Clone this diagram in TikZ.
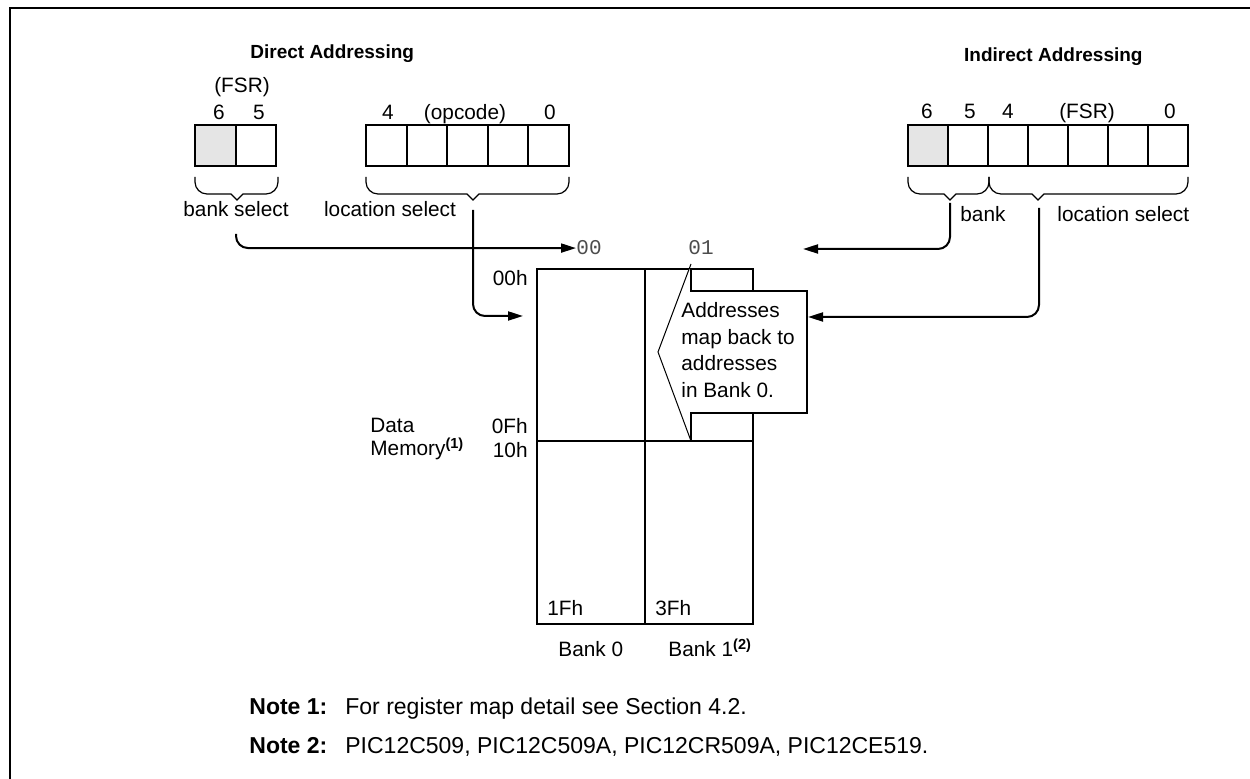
\documentclass[tikz,border=0pt]{standalone}
\usepackage{fontspec}
\setmainfont{Liberation Sans}
\setmonofont{Liberation Mono}
\usetikzlibrary{arrows.meta}
\usetikzlibrary{calc}

\definecolor{bankgray}{gray}{0.9}

\begin{document}
\begin{tikzpicture}[x=0.5pt, y=-0.5pt, >={Triangle[length=7.5pt,width=4.5pt]},
  lbl/.style={inner sep=0pt, font=\fontsize{10.4}{12.5}\selectfont},
  ttl/.style={inner sep=0pt, font=\fontsize{9.5}{11.5}\selectfont\bfseries},
  note/.style={inner sep=0pt, font=\fontsize{11.5}{14}\selectfont},
  adr/.style={inner sep=0pt, font=\fontsize{10.5}{12}\selectfont\ttfamily, text=black!70},
  cell/.style={draw, line width=1pt, minimum width=20.3pt, minimum height=20.5pt, inner sep=0pt},
  bankcol/.style={draw, line width=1pt, minimum width=54pt, minimum height=177.5pt, inner sep=0pt},
  wire/.style={line width=1pt, rounded corners=6pt},
  brace/.style={line width=0.6pt},
  pointer/.style={line width=0.5pt}]
\useasboundingbox (0,0) rectangle (1250,779);
\draw[line width=1pt] (10,779) -- (10,8) -- (1250,8);

\node[ttl, anchor=base west] (dtitle) at (250,59) {Direct Addressing};
\node[ttl, anchor=base east] (ititle) at (1143,62) {Indirect Addressing};

\node[cell, fill=bankgray] (fsr6) at (215.5,145.5) {};
\node[cell] (fsr5) at (256.1,145.5) {};
\foreach \i in {0,...,4}
  \node[cell] (opc\i) at (386.3+\i*40.6,145.5) {};
\node[lbl, anchor=base] (fsrname) at (242,93) {(FSR)};
\node[lbl, anchor=base] (fsrbit6) at (219,120) {6};
\node[lbl, anchor=base] (fsrbit5) at (259,120) {5};
\node[lbl, anchor=base] (opcbit4) at (388,120) {4};
\node[lbl, anchor=base] (opcname) at (465,120) {(opcode)};
\node[lbl, anchor=base] (opcbit0) at (550,120) {0};

\node[cell, fill=bankgray] (ind0) at (928,145.5) {};
\foreach \i in {1,...,6}
  \node[cell] (ind\i) at (928+\i*40,145.5) {};
\node[lbl, anchor=base] (indbit6) at (927,119) {6};
\node[lbl, anchor=base] (indbit5) at (970,119) {5};
\node[lbl, anchor=base] (indbit4) at (1008,119) {4};
\node[lbl, anchor=base] (indname) at (1087,119) {(FSR)};
\node[lbl, anchor=base] (indbit0) at (1170,119) {0};

\foreach \a/\b/\t in {195/278/237, 366/569/473, 908/989/950, 989/1188/1038}
  \draw[brace] (\a,177) -- (\a,182) .. controls (\a,188.6) and (\a+5.4,194) .. (\a+12,194)
    -- (\t-6,194) -- (\t,200) -- (\t+6,194) -- (\b-12,194)
    .. controls (\b-5.4,194) and (\b,188.6) .. (\b,182) -- (\b,177);

\node[lbl, anchor=base] (bankselect) at (236,217) {bank select};
\node[lbl, anchor=base] (locselect) at (390,217) {location select};
\node[lbl, anchor=base west] (bankname) at (960,222) {bank};
\node[lbl, anchor=base west] (locname) at (1057,222) {location select};

\node[bankcol, anchor=north west] (bank0) at (536,268) {};
\node[bankcol, anchor=north west] (bank1) at (644,268) {};
\coordinate (row0F) at (0,441);
\draw[line width=1pt] (bank0.west |- row0F) -- (bank1.east |- row0F);

\fill[white] (691,264) -- (658,352) -- (691,441) -- (691,413) -- (807,413) -- (807,291) -- (691,291) -- cycle;
\draw[line width=1pt] (691,268) -- (691,291) -- (807,291) -- (807,413) -- (691,413) -- (691,441);
\draw[pointer] (691,264) -- (658,352) -- (691,441);
\node[lbl, anchor=north west, align=left, font=\fontsize{10.4}{13.35}\selectfont] (maptext) at (681,302)
  {Addresses\\map back to\\addresses\\in Bank 0.};

\node[lbl, anchor=base east] (a00h) at (528,286) {00h};
\node[lbl, anchor=base east] (a0Fh) at (528,434) {0Fh};
\node[lbl, anchor=base east] (a10h) at (528,458) {10h};
\node[lbl, anchor=base west] (a1Fh) at (547,616) {1Fh};
\node[lbl, anchor=base west] (a3Fh) at (655,616) {3Fh};
\node[lbl, anchor=base west] (dataname) at (370,433) {Data};
\node[lbl, anchor=base west] (memname) at (370,456) {Memory\textsuperscript{\bfseries(1)}};
\node[lbl, anchor=base west] (bank0name) at (558,657) {Bank 0};
\node[lbl, anchor=base west] (bank1name) at (668,657) {Bank 1\textsuperscript{\bfseries(2)}};

\node[adr, anchor=base west] (col00) at (576,255) {00};
\node[adr, anchor=base west] (col01) at (688,255) {01};

\coordinate (bsel) at (236,234);
\coordinate (lsel) at (473,210);
\coordinate (ibank) at (950,203);
\coordinate (iloc) at (1039,208);
\coordinate (in0) at (523,316);
\coordinate (out01) at (803,249);
\coordinate (callin) at (808,317);
\draw[wire, ->] (bsel) |- (col00.west);
\draw[wire, ->] (lsel) |- (in0);
\draw[wire, ->] (ibank) |- (out01);
\draw[wire, ->] (iloc) |- (callin);

\node[note, anchor=base west, font=\fontsize{11.5}{14}\selectfont\bfseries] (note1) at (249,715) {Note 1:};
\node[note, anchor=base west] (note1txt) at (345,715) {For register map detail see Section 4.2.};
\node[note, anchor=base west, font=\fontsize{11.5}{14}\selectfont\bfseries] (note2) at (249,754) {Note 2:};
\node[note, anchor=base west] (note2txt) at (345,754) {PIC12C509, PIC12C509A, PIC12CR509A, PIC12CE519.};
\end{tikzpicture}
\end{document}
